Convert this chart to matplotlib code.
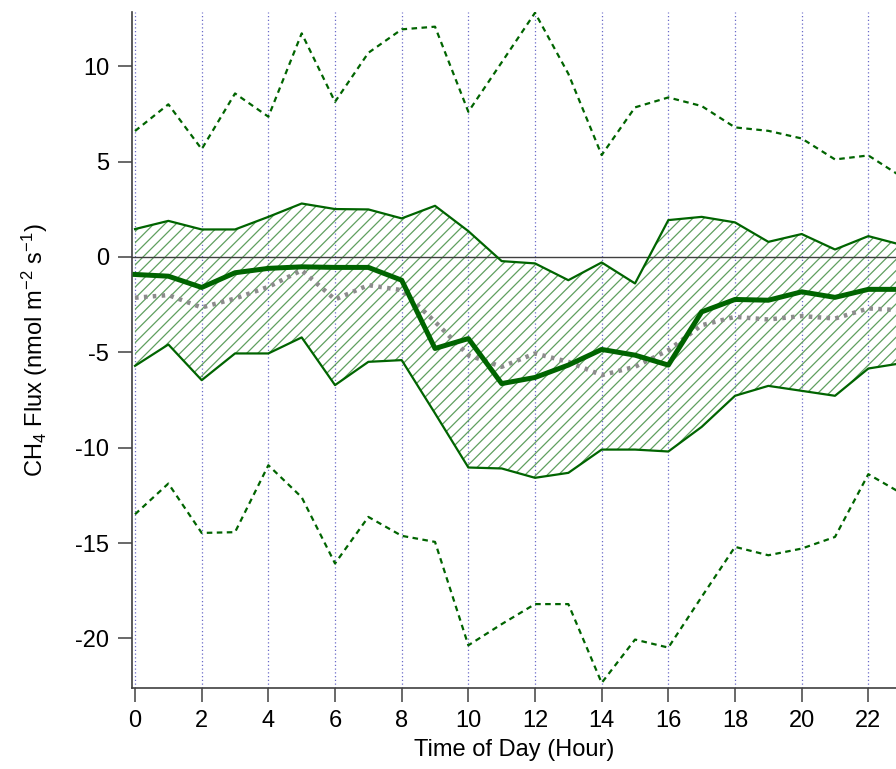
import numpy as np
import matplotlib.pyplot as plt

plt.rcParams['font.family'] = ['Liberation Sans', 'DejaVu Sans']
plt.rcParams['mathtext.fontset'] = 'custom'
plt.rcParams['mathtext.rm'] = 'Liberation Sans'
plt.rcParams['mathtext.it'] = 'Liberation Sans'
plt.rcParams['axes.unicode_minus'] = False
plt.rcParams['hatch.linewidth'] = 0.9
plt.rcParams['hatch.color'] = '#5f9f5f'

# ora del giorno
ore = np.arange(24)
# estremi esterni (tratteggiati)
sup_est = [6.6, 8.0, 5.65, 8.57, 7.35, 11.72, 8.13, 10.7, 11.93, 12.07, 7.61, 10.2,
           12.8, 9.6, 5.34, 7.84, 8.36, 7.91, 6.79, 6.61, 6.21, 5.11, 5.32, 4.2]
inf_est = [-13.49, -11.88, -14.47, -14.43, -10.92, -12.6, -16.07, -13.63, -14.62, -14.94,
           -20.36, -19.25, -18.2, -18.2, -22.33, -20.06, -20.48, -17.82, -15.2, -15.64,
           -15.29, -14.68, -11.39, -12.4]
# banda interna (area tratteggiata)
sup_banda = [1.46, 1.89, 1.44, 1.44, 2.1, 2.8, 2.51, 2.49, 2.02, 2.68, 1.35, -0.22,
             -0.34, -1.22, -0.29, -1.39, 1.93, 2.1, 1.81, 0.79, 1.2, 0.39, 1.09, 0.63]
inf_banda = [-5.71, -4.59, -6.46, -5.06, -5.06, -4.22, -6.72, -5.5, -5.41, -8.2, -11.04,
             -11.09, -11.58, -11.32, -10.1, -10.1, -10.2, -8.91, -7.28, -6.76, -7.02,
             -7.28, -5.85, -5.57]
# linea spessa e linea grigia punteggiata
mediana = [-0.92, -1.01, -1.6, -0.83, -0.6, -0.52, -0.55, -0.55, -1.22, -4.8, -4.28,
           -6.64, -6.32, -5.67, -4.85, -5.15, -5.67, -2.88, -2.23, -2.27, -1.83, -2.12,
           -1.7, -1.7]
media = [-2.14, -2.0, -2.65, -2.18, -1.57, -0.7, -2.23, -1.48, -1.74, -3.4, -5.15, -5.76,
         -5.06, -5.5, -6.2, -5.76, -4.89, -3.58, -3.14, -3.28, -3.1, -3.23, -2.7, -2.8]

verde = '#006400'

fig = plt.figure(figsize=(8.96, 7.69), dpi=100)
ax = fig.add_axes([0.1468, 0.1053, 0.8532, 0.8791])

# griglia verticale ogni 2 ore
for h in range(0, 24, 2):
    ax.axvline(h, color='#6a6ac8', lw=0.9, ls=(0, (1, 2)), zorder=0)

ax.fill_between(ore, inf_banda, sup_banda, facecolor='none', edgecolor='#5f9f5f',
                hatch='///', lw=0, zorder=2)
ax.axhline(0, color='#404040', lw=1.0, zorder=2.5)
ax.plot(ore, sup_banda, color=verde, lw=1.6, zorder=3)
ax.plot(ore, inf_banda, color=verde, lw=1.6, zorder=3)
ax.plot(ore, sup_est, color=verde, lw=1.6, ls=(0, (2.5, 2)), zorder=3)
ax.plot(ore, inf_est, color=verde, lw=1.6, ls=(0, (2.5, 2)), zorder=3)
ax.plot(ore, media, color='#8c8c8c', lw=3.2, ls=(0, (0.8, 1.2)), zorder=4)
ax.plot(ore, mediana, color=verde, lw=3.6, zorder=5)

ax.set_xlim(-0.105, 22.83)
ax.set_ylim(-22.6, 12.84)
ax.set_xticks(range(0, 24, 2))
ax.set_yticks([-20, -15, -10, -5, 0, 5, 10])
ax.spines['top'].set_visible(False)
ax.spines['right'].set_visible(False)
for s in ['left', 'bottom']:
    ax.spines[s].set_color('#404040')
    ax.spines[s].set_linewidth(1.2)
ax.tick_params(direction='out', length=10, width=1.1, color='#404040', labelsize=17, pad=6)
ax.set_xlabel('Time of Day (Hour)', fontsize=17, labelpad=5)
ax.set_ylabel('CH$_4$ Flux (nmol m$^{-2}$ s$^{-1}$)', fontsize=17, labelpad=18)

plt.savefig('out.png', dpi=100)
